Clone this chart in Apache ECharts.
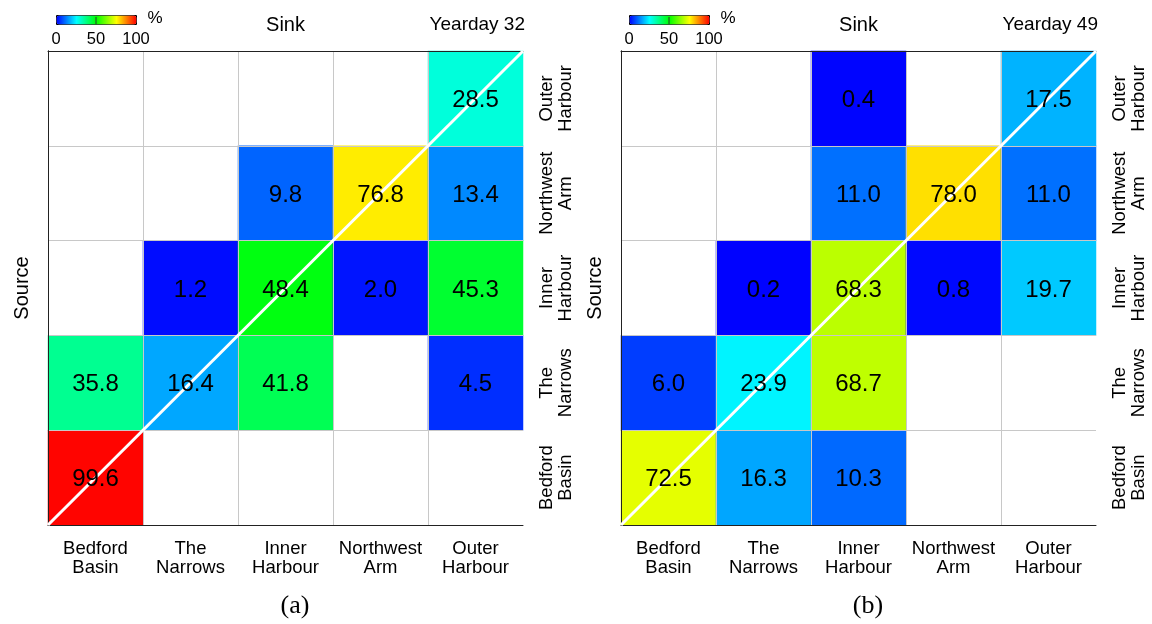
<!DOCTYPE html>
<html>
<head>
<meta charset="utf-8">
<script src="https://cdn.jsdelivr.net/npm/echarts@6/dist/echarts.min.js"></script>
<style>
  html, body { margin: 0; padding: 0; background: #fff; }
  #chart { width: 1152px; height: 624px; }
</style>
</head>
<body>
<div id="chart"></div>
<script>
// Regions of the harbour, ordered west to east (sinks on x, sources on y, bottom to top)
const regions = ['Bedford Basin', 'The Narrows', 'Inner Harbour', 'Northwest Arm', 'Outer Harbour'];
const regionLabels = ['Bedford\nBasin', 'The\nNarrows', 'Inner\nHarbour', 'Northwest\nArm', 'Outer\nHarbour'];

// Connectivity (%) on yearday 32, one row per source region, columns are sinks
const day32BedfordBasin = [99.6, null, null, null, null];
const day32TheNarrows   = [35.8, 16.4, 41.8, null, 4.5];
const day32InnerHarbour = [null, 1.2, 48.4, 2.0, 45.3];
const day32NorthwestArm = [null, null, 9.8, 76.8, 13.4];
const day32OuterHarbour = [null, null, null, null, 28.5];

// Connectivity (%) on yearday 49
const day49BedfordBasin = [72.5, 16.3, 10.3, null, null];
const day49TheNarrows   = [6.0, 23.9, 68.7, null, null];
const day49InnerHarbour = [null, 0.2, 68.3, 0.8, 19.7];
const day49NorthwestArm = [null, null, 11.0, 78.0, 11.0];
const day49OuterHarbour = [null, null, 0.4, null, 17.5];

const colorTicks = [0, 50, 100];
const panels = [
  { tag: '(a)', day: 'Yearday 32',
    rows: [day32BedfordBasin, day32TheNarrows, day32InnerHarbour, day32NorthwestArm, day32OuterHarbour] },
  { tag: '(b)', day: 'Yearday 49',
    rows: [day49BedfordBasin, day49TheNarrows, day49InnerHarbour, day49NorthwestArm, day49OuterHarbour] }
];

const FONT = '"Liberation Sans", Arial, Helvetica, sans-serif';
const SERIF = '"Liberation Serif", "Times New Roman", serif';
const JET = ['#0000ff', '#00ffff', '#00ff00', '#ffff00', '#ff0000'];

function toCells(rows) {
  const out = [];
  rows.forEach((row, yi) => row.forEach((v, xi) => { if (v !== null) out.push([xi, yi, v]); }));
  return out;
}

const layout = [
  { left: 48, top: 51, width: 475, height: 474, barLeft: 56, source: 22, tagX: 295 },
  { left: 621, top: 51, width: 475, height: 474, barLeft: 629, source: 595, tagX: 868 }
];

const grid = [], xAxis = [], yAxis = [], series = [], visualMap = [], graphic = [];

panels.forEach((p, i) => {
  const L = layout[i];
  grid.push({ left: L.left, top: L.top, width: L.width, height: L.height,
              show: true, backgroundColor: '#fff', borderWidth: 0, outerBoundsMode: 'none' });

  // category axes carrying the region labels
  xAxis.push({
    type: 'category', gridIndex: i, data: regionLabels, position: 'bottom', z: 3,
    axisLine: { show: true, lineStyle: { color: '#222', width: 1 } },
    axisTick: { show: false },
    axisLabel: { interval: 0, margin: 14, fontSize: 18.5, lineHeight: 19, color: '#000', fontFamily: FONT },
    splitLine: { show: true, interval: 0, showMinLine: false, showMaxLine: false,
                 lineStyle: { color: '#c8c8c8', width: 1 } }
  });
  yAxis.push({
    type: 'category', gridIndex: i, data: regionLabels, position: 'right', z: 3,
    axisLine: { show: true, lineStyle: { color: '#222', width: 1 } },
    axisTick: { show: false },
    axisLabel: { interval: 0, margin: 14, rotate: 90, align: 'center', verticalAlign: 'top',
                 fontSize: 18.5, lineHeight: 19, color: '#000', fontFamily: FONT },
    splitLine: { show: true, interval: 0, showMinLine: false, showMaxLine: false,
                 lineStyle: { color: '#c8c8c8', width: 1 } }
  });
  // continuous axes spanning the same box, used for the 1:1 diagonal and the top/left frame
  xAxis.push({
    type: 'value', gridIndex: i, min: 0, max: regions.length, position: 'top', z: 3,
    axisLine: { show: true, lineStyle: { color: '#222', width: 1 } },
    axisTick: { show: false }, axisLabel: { show: false }, splitLine: { show: false }
  });
  yAxis.push({
    type: 'value', gridIndex: i, min: 0, max: regions.length, position: 'left', z: 3,
    axisLine: { show: true, lineStyle: { color: '#222', width: 1 } },
    axisTick: { show: false }, axisLabel: { show: false }, splitLine: { show: false }
  });

  const cells = toCells(p.rows);
  const heatIndex = series.length;
  series.push({
    type: 'heatmap', name: p.day, xAxisIndex: 2 * i, yAxisIndex: 2 * i, z: 2,
    data: cells, label: { show: false }, emphasis: { disabled: true }
  });
  series.push({
    type: 'line', xAxisIndex: 2 * i + 1, yAxisIndex: 2 * i + 1, z: 4,
    data: [[0, 0], [regions.length, regions.length]],
    symbol: 'none', silent: true, lineStyle: { color: '#fff', width: 3 }
  });
  // cell values, drawn above the diagonal
  series.push({
    type: 'scatter', xAxisIndex: 2 * i, yAxisIndex: 2 * i, z: 5, silent: true,
    data: cells, symbolSize: 0, itemStyle: { color: '#000', opacity: 1 },
    label: { show: true, position: 'inside', offset: [0, 2], fontSize: 24, color: '#000', opacity: 1,
             textBorderWidth: 0, fontFamily: FONT,
             formatter: d => d.value[2].toFixed(1) }
  });

  visualMap.push({
    type: 'continuous', seriesIndex: heatIndex, min: 0, max: 100,
    orient: 'horizontal', left: L.barLeft, top: 15, itemWidth: 9, itemHeight: 80,
    padding: 0, calculable: false, text: null, hoverLink: false,
    borderColor: '#000', borderWidth: 1,
    inRange: { color: JET }
  });

  // colour bar ticks and unit
  const barW = 80;
  graphic.push({ type: 'line', z: 100,
    shape: { x1: L.barLeft + barW / 2, y1: 17, x2: L.barLeft + barW / 2, y2: 24 },
    style: { stroke: '#333', lineWidth: 1 } });
  colorTicks.forEach(t => {
    graphic.push({ type: 'text', z: 100,
      style: { x: L.barLeft + barW * t / 100, y: 39, text: String(t), textAlign: 'center',
               textVerticalAlign: 'middle', fontSize: 16.5, fontFamily: FONT, fill: '#000' } });
  });
  graphic.push({ type: 'text', z: 100,
    style: { x: L.barLeft + barW + 19, y: 18, text: '%', textAlign: 'center',
             textVerticalAlign: 'middle', fontSize: 17, fontFamily: FONT, fill: '#000' } });

  // panel titles
  graphic.push({ type: 'text', z: 100,
    style: { x: L.left + L.width / 2, y: 25, text: 'Sink', textAlign: 'center',
             textVerticalAlign: 'middle', fontSize: 20, fontFamily: FONT, fill: '#000' } });
  graphic.push({ type: 'text', z: 100,
    style: { x: L.left + L.width + 2, y: 25, text: p.day, textAlign: 'right',
             textVerticalAlign: 'middle', fontSize: 19, fontFamily: FONT, fill: '#000' } });
  graphic.push({ type: 'text', z: 100, x: L.source, y: L.top + L.height / 2, rotation: Math.PI / 2,
    style: { x: 0, y: 0, text: 'Source', textAlign: 'center',
             textVerticalAlign: 'middle', fontSize: 20, fontFamily: FONT, fill: '#000' } });
  graphic.push({ type: 'text', z: 100,
    style: { x: L.tagX, y: 606, text: p.tag, textAlign: 'center',
             textVerticalAlign: 'middle', fontSize: 26, fontFamily: SERIF, fill: '#000' } });
});

const chart = echarts.init(document.getElementById('chart'), null, { renderer: 'canvas' });
chart.setOption({
  animation: false,
  backgroundColor: '#fff',
  textStyle: { fontFamily: FONT },
  grid, xAxis, yAxis, series, visualMap, graphic
});
</script>
</body>
</html>
